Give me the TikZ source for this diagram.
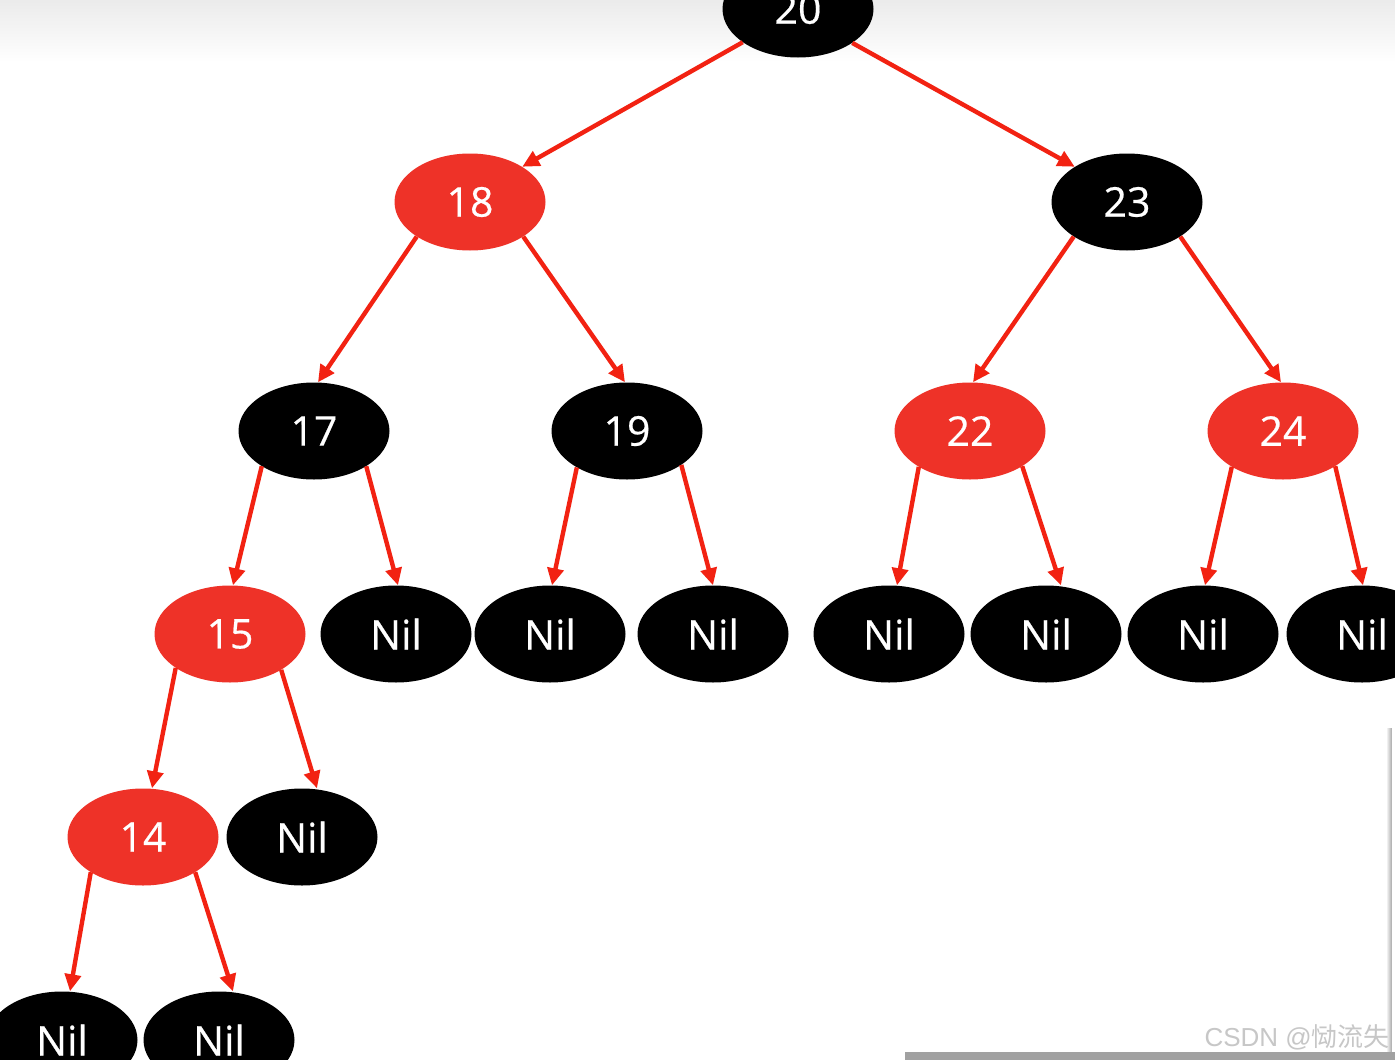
\documentclass[tikz,border=0pt]{standalone}
\usepackage{fontspec}
\setmainfont{Open Sans}
\newfontfamily\labfont[FakeBold=0.5]{Open Sans}
\newfontfamily\cjkfont{Noto Sans CJK SC}
\usetikzlibrary{shapes.geometric,arrows.meta}
\definecolor{nodered}{RGB}{238,50,40}
\definecolor{edgered}{RGB}{242,34,18}
\tikzset{
  rbnode/.style={ellipse, minimum width=151pt, minimum height=97pt, inner sep=0pt,
    text=white, font=\labfont\fontsize{41}{41}\selectfont},
  rednode/.style={rbnode, fill=nodered},
  blknode/.style={rbnode, fill=black},
  edge/.style={draw=edgered, line width=4.4pt,
    -{Triangle[length=17pt,width=16pt]}}
}
\begin{document}
\begin{tikzpicture}[x=1pt,y=-1pt]
\useasboundingbox (0,0) rectangle (1395,1060);
\fill[white] (0,0) rectangle (1395,1060);
\shade[top color=black!8, bottom color=white] (0,0) rectangle (1395,62);
% nodes
\node[blknode] (n20) at (798,9) {20};
\node[rednode] (n18) at (470,202) {18};
\node[blknode] (n23) at (1127,202) {23};
\node[blknode] (n17) at (314,431) {17};
\node[blknode] (n19) at (627,431) {19};
\node[rednode] (n22) at (970,431) {22};
\node[rednode] (n24) at (1283,431) {24};
\node[rednode] (n15) at (230,634) {15};
\node[blknode] (nA) at (396,634) {Nil};
\node[blknode] (nB) at (550,634) {Nil};
\node[blknode] (nC) at (713,634) {Nil};
\node[blknode] (nD) at (889,634) {Nil};
\node[blknode] (nE) at (1046,634) {Nil};
\node[blknode] (nF) at (1203,634) {Nil};
\node[blknode] (nG) at (1362,634) {Nil};
\node[rednode] (n14) at (143,837) {14};
\node[blknode] (nH) at (302,837) {Nil};
\node[blknode] (nI) at (62,1040) {Nil};
\node[blknode] (nJ) at (219,1040) {Nil};
% edges
\draw[edge] (n20.211) -- (n18.34);
\draw[edge] (n20.328) -- (n23.146);
\draw[edge] (n18.213) -- ([xshift=4pt]n17.north);
\draw[edge] (n18.327) -- ([xshift=-2pt]n19.north);
\draw[edge] (n23.213) -- ([xshift=3pt]n22.north);
\draw[edge] (n23.327) -- ([xshift=-2pt]n24.north);
\draw[edge] (n17.214) -- ([xshift=3pt]n15.north);
\draw[edge] (n17.326) -- ([xshift=2pt]nA.north);
\draw[edge] (n19.216) -- ([xshift=2pt]nB.north);
\draw[edge] (n19.328) -- (nC.north);
\draw[edge] (n22.215) -- ([xshift=8pt]nD.north);
\draw[edge] (n22.326) -- ([xshift=15pt]nE.north);
\draw[edge] (n24.215) -- ([xshift=2pt]nF.north);
\draw[edge] (n24.326) -- ([xshift=1pt]nG.north);
\draw[edge] (n15.212) -- ([xshift=9pt]n14.north);
\draw[edge] (n15.325) -- ([xshift=15pt]nH.north);
\draw[edge] (n14.214) -- ([xshift=8pt]nI.north);
\draw[edge] (n14.326) -- ([xshift=14pt]nJ.north);
% screen artefacts
\shade[left color=white, right color=black!35] (1386,728) rectangle (1392,1052);
\fill[white] (1392,728) rectangle (1395,1052);
\fill[black!37] (905,1052) rectangle (1395,1060);
\node[anchor=base east, text=black!22, inner sep=0pt, font=\fontsize{26}{26}\selectfont] (wm) at (1390,1046) {\setmainfont{Liberation Sans}CSDN @\cjkfont 恸流失};
\end{tikzpicture}
\end{document}
